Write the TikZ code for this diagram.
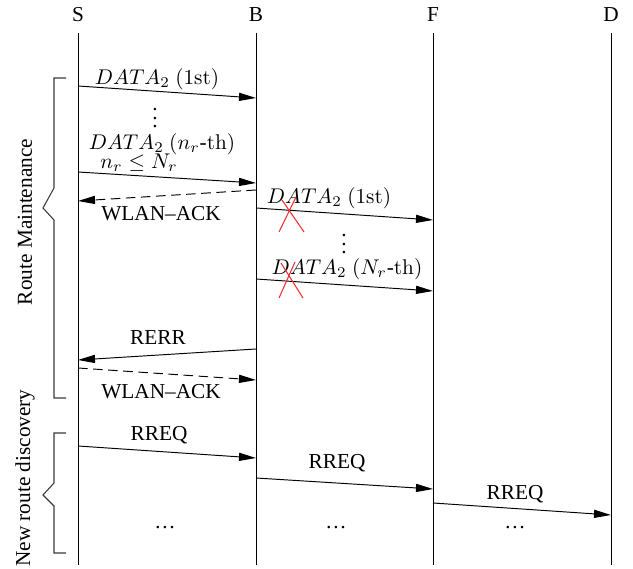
\documentclass[tikz,border=0pt]{standalone}
\usepackage{amsmath,amssymb}
\usepackage[no-math]{fontspec}
\setmainfont{Liberation Serif}
\usepackage{tikz}
\usetikzlibrary{positioning,arrows.meta,calc}
\usepackage{xcolor}
\definecolor{crossred}{HTML}{F03030}
\definecolor{bracegray}{HTML}{3A3A3A}

\tikzset{
  msg/.style={-{Triangle[length=8pt,width=3.8pt]},line width=0.45pt},
  ack/.style={msg,dash pattern=on 4.5pt off 2.6pt},
  lostx/.style={crossred,line width=0.5pt},
  brc/.style={bracegray,line width=0.5pt},
}

\begin{document}
\begin{tikzpicture}[x=0.47pt,y=-0.47pt]
        \useasboundingbox (0,0) rectangle (633,569);
        % lifelines
        \foreach \n/\x in {S/78,B/256,F/433,D/611}{
          \node (\n) at (\x,15) {\n};
          \coordinate (\n top) at (\x,33);
          \coordinate (\n bot) at (\x,565);
          \draw[line width=0.45pt] (\n top)--(\n bot);}
        % message end points
        \foreach \m/\xa/\ya/\xb/\yb in {d1/78/86/256/98, dn/78/172/256/183,
            a1/256/190/78/201, f1/256/208/433/220, fn/256/279/433/291,
            er/256/349/78/360, a2/78/368/256/380, q1/78/446/256/458,
            q2/256/478/433/489, q3/433/503/611/515}{
          \coordinate (\m s) at (\xa,\ya);
          \coordinate (\m e) at (\xb,\yb);}
        \foreach \m/\sty in {d1/msg,dn/msg,a1/ack,f1/msg,fn/msg,
            er/msg,a2/ack,q1/msg,q2/msg,q3/msg}{
          \draw[\sty] (\m s)--(\m e);}
        % labels
        \node (ld1) at (157,79) {$DATA_2~(\mathrm{1st})$};
        \node (vd1) at (155,112) {$\vdots$};
        \node (ldn) at (162,144) {$DATA_2~(n_r\text{-}\mathrm{th})$};
        \node (lcnd) at (139,163) {$n_r \le N_r$};
        \node (la1) at (161,214) {WLAN--ACK};
        \node (lf1) at (329,198) {$DATA_2~(\mathrm{1st})$};
        \node (vd2) at (344,238) {$\vdots$};
        \node (lfn) at (347,269) {$DATA_2~(N_r\text{-}\mathrm{th})$};
        \node (ler) at (158,338) {RERR};
        \node (la2) at (161,392) {WLAN--ACK};
        \node (lq1) at (159,435) {RREQ};
        \node (lq2) at (337,463) {RREQ};
        \node (lq3) at (515,494) {RREQ};
        \foreach \x/\k in {165/1,336/2,515/3}{
          \node (more\k) at (\x,528) {\dots};}
        % lost frames
        \draw[lostx] (279,232)--(296,197) (282,200)--(304,232);
        \draw[lostx] (279,298)--(295,262) (281,263)--(303,298);
        % phases
        \draw[brc] (66,78)--(54,78)--(54,188)--(43,208)--(54,220)--(54,398)--(66,398);
        \draw[brc] (66,433)--(54,433)--(54,483)--(43,495)--(54,506)--(54,553)--(66,553);
        \node[rotate=90] (rmnt) at (25,222) {Route Maintenance};
        \node[rotate=90] (nrdc) at (25,478) {New route discovery};
      \end{tikzpicture}
\end{document}
